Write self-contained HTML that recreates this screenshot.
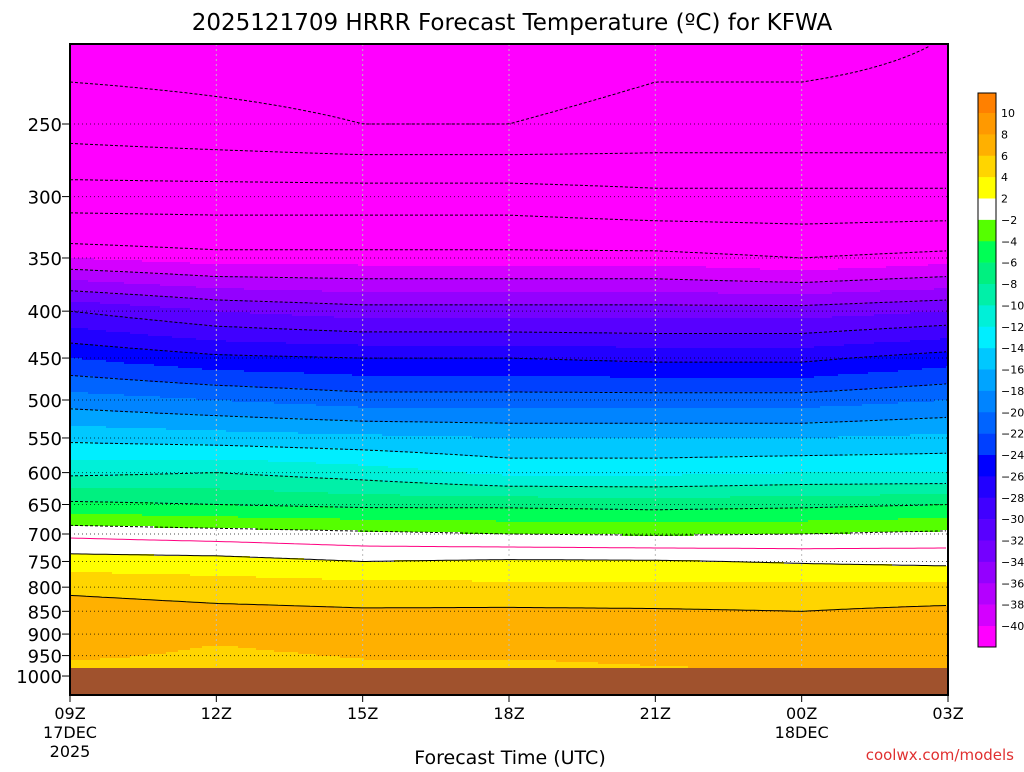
<!DOCTYPE html>
<html><head><meta charset="utf-8">
<style>
body{margin:0;background:#fff;width:1024px;height:768px;overflow:hidden;font-family:"DejaVu Sans","Liberation Sans",sans-serif;}
svg text{font-family:"DejaVu Sans","Liberation Sans",sans-serif;fill:#000;}
</style></head>
<body>
<svg id="chart" width="1024" height="768" xmlns="http://www.w3.org/2000/svg">
<defs><clipPath id="plotclip"><rect x="70" y="44" width="878" height="651"/></clipPath></defs>
<text x="512" y="30" font-size="23" text-anchor="middle">2025121709 HRRR Forecast Temperature (ºC) for KFWA</text>
<g id="field" clip-path="url(#plotclip)"></g>
<g id="grid"></g>
<g id="contours" clip-path="url(#plotclip)"></g>
<rect x="70" y="668" width="878" height="27" fill="#a0522d"/>
<rect x="70" y="44" width="878" height="651" fill="none" stroke="#000" stroke-width="2"/>
<g id="yaxis"></g>
<g id="xaxis"></g>
<text x="510" y="764" font-size="19" text-anchor="middle">Forecast Time (UTC)</text>
<text x="1014" y="760" font-size="15" text-anchor="end" fill="#e03030" style="fill:#e03030">coolwx.com/models</text>
<g id="cbar"></g>
</svg>
<script>
const pressures=[200,250,300,350,400,450,500,550,600,650,700,750,800,850,900,950,1000];
const hours=[0,3,6,9,12,15,18];
const temp0=[-60,-56,-48,-40,-30,-24,-19,-14.5,-10.5,-5.5,-0.5,3,5.5,7,8,6.5,4.5];
const temp3=[-60,-57,-48,-41,-32,-25.5,-20,-15,-10,-6,-1,2.8,5,6.5,6.5,5.5,4.5];
const temp6=[-60,-58,-48,-41,-33,-26,-21,-15.5,-11,-6.5,-1.5,2,4.8,6.2,7.2,6.2,5];
const temp9=[-60,-58,-48,-41,-33,-26,-21,-16,-12.5,-6.5,-2,2.3,4.5,6.3,7,6.2,5];
const temp12=[-59,-57,-49,-41,-33,-26.5,-21,-16,-12.5,-6.8,-2.2,2.2,4.5,6.2,7.2,6.5,5.5];
const temp15=[-59,-57,-49,-42,-33,-26.5,-21,-16,-12,-6.5,-2,1.8,4.5,6,7,7,5.5];
const temp18=[-58,-57,-49,-41,-32,-25,-20,-15.5,-12,-6,-1.5,1.5,4.5,6.5,7.2,7,5.8];
const temps=[temp0,temp3,temp6,temp9,temp12,temp15,temp18];
const pLabels=[250,300,350,400,450,500,550,600,650,700,750,800,850,900,950,1000];
const tLabels=["09Z","12Z","15Z","18Z","21Z","00Z","03Z"];
const cbLabels=[10,8,6,4,2,-2,-4,-6,-8,-10,-12,-14,-16,-18,-20,-22,-24,-26,-28,-30,-32,-34,-36,-38,-40];
const cbColors=["#ff8000","#ff9900","#ffb000","#ffd500","#ffff00","#ffffff","#55ff00","#00ff55","#00f080","#00f0a8","#00f0d8","#00eeff","#00c8ff","#00a4ff","#0084ff","#0064ff","#0040ff","#0000ff","#2200ff","#4000ff","#5800ff","#7400ff","#9400ff","#b400ff","#d400ff","#ff00ff"];
const contourLevels=[-58,-54,-50,-46,-42,-38,-34,-30,-26,-22,-18,-14,-10,-6,-2,0,2,6];

const NS="http://www.w3.org/2000/svg";
const X0=70,X1=948,Y250=124,YPL=398.2;
function xs(h){return X0+(X1-X0)*h/18;}
function ys(p){return Y250+YPL*(Math.log(p)-Math.log(250));}
function pOfY(y){return 250*Math.exp((y-Y250)/YPL);}
function el(tag,attrs,parent){const e=document.createElementNS(NS,tag);for(const k in attrs)e.setAttribute(k,attrs[k]);parent.appendChild(e);return e;}
function tAt(h,p){
  let i=0;while(i<hours.length-2&&h>hours[i+1])i++;
  const fh=Math.max(0,Math.min(1,(h-hours[i])/(hours[i+1]-hours[i])));
  let j=0;while(j<pressures.length-2&&p>pressures[j+1])j++;
  const fp=Math.max(0,Math.min(1,(p-pressures[j])/(pressures[j+1]-pressures[j])));
  const a=temps[i][j]*(1-fp)+temps[i][j+1]*fp;
  const b=temps[i+1][j]*(1-fp)+temps[i+1][j+1]*fp;
  return a*(1-fh)+b*fh;
}
function colorOf(t){
  if(t>=10)return cbColors[0];
  if(t<-40)return cbColors[25];
  if(t>=-2&&t<2)return cbColors[5];
  if(t>=2){return cbColors[4-Math.floor((t-2)/2)];}
  const k=Math.floor((-2-t)/2);return cbColors[6+k];
}
const field=document.getElementById('field');
const DX=6,DY=2;
for(let x=X0;x<X1;x+=DX){
  const h=Math.min(18,(x+DX/2-X0)/(X1-X0)*18);
  let cur=null,start=44;
  for(let y=44;y<=696;y+=DY){
    const c=y<695?colorOf(tAt(h,pOfY(y+DY/2))):null;
    if(c!==cur){
      if(cur){const r=el('rect',{x:x,y:start,width:DX+0.5,height:y-start+0.5,fill:cur},field);
        
        }
      cur=c;start=y;
    }
  }
}
const cg=document.getElementById('contours');
contourLevels.forEach(lv=>{
  const pts=[];
  for(let x=X0;x<=X1;x+=4){
    const h=(x-X0)/(X1-X0)*18;
    let prev=tAt(h,pOfY(44)),found=null;
    for(let y=45;y<=668;y+=1){
      const t=tAt(h,pOfY(y));
      if((prev-lv)*(t-lv)<=0&&prev!==t){found=y-1+(lv-prev)/(t-prev);break;}
      prev=t;
    }
    if(found!==null)pts.push(x+','+found.toFixed(1));
  }
  if(pts.length<2)return;
  const attrs={points:pts.join(' '),fill:'none',stroke:lv===0?'#ff0080':'#000','stroke-width':1};
  if(lv<0)attrs['stroke-dasharray']='3,2';
  const l=el('polyline',attrs,cg);
  
  
});
const gg=document.getElementById('grid');
pLabels.forEach(p=>{const l=el('line',{x1:X0,x2:X1,y1:ys(p),y2:ys(p),stroke:'#000','stroke-width':1,'stroke-dasharray':'1,3',opacity:0.7},gg);
  
  });
tLabels.forEach((t,i)=>{const x=xs(i*3);const l=el('line',{x1:x,x2:x,y1:44,y2:668,stroke:'#bbb','stroke-width':1,'stroke-dasharray':'2,3'},gg);
  
  });
const ya=document.getElementById('yaxis');
pLabels.forEach(p=>{const y=ys(p);
  const t=el('text',{x:62,y:y+7,'font-size':18,'text-anchor':'end'},ya);t.textContent=p;
  
  
  const k=el('line',{x1:62,x2:70,y1:y,y2:y,stroke:'#000'},ya);
  
  });
const xa=document.getElementById('xaxis');
tLabels.forEach((s,i)=>{const x=xs(i*3);
  const k=el('line',{x1:x,x2:x,y1:695,y2:702,stroke:'#000'},xa);
  
  
  const t=el('text',{x:x,y:719,'font-size':16,'text-anchor':'middle'},xa);t.textContent=s;
  
  });
[["17DEC",xs(0),738],["2025",xs(0),757],["18DEC",xs(15),738]].forEach(d=>{
  const t=el('text',{x:d[1],y:d[2],'font-size':16,'text-anchor':'middle'},xa);t.textContent=d[0];
  
  });
const cb=document.getElementById('cbar');
const CBT=93,CBB=647,L0=113,LS=(626-113)/24;
cbColors.forEach((c,i)=>{
  const y0=i===0?CBT:L0+(i-1)*LS, y1=i===25?CBB:L0+i*LS;
  const r=el('rect',{x:978,y:y0,width:18,height:y1-y0+0.3,fill:c},cb);
  
  });
el('rect',{x:978,y:CBT,width:18,height:CBB-CBT,fill:'none',stroke:'#000','stroke-width':1},cb);
cbLabels.forEach((v,i)=>{const y=L0+i*LS;
  const t=el('text',{x:1001,y:y+4,'font-size':11},cb);t.textContent=(v<0?'\u2212'+(-v):v);
  
  });
</script>
</body></html>
